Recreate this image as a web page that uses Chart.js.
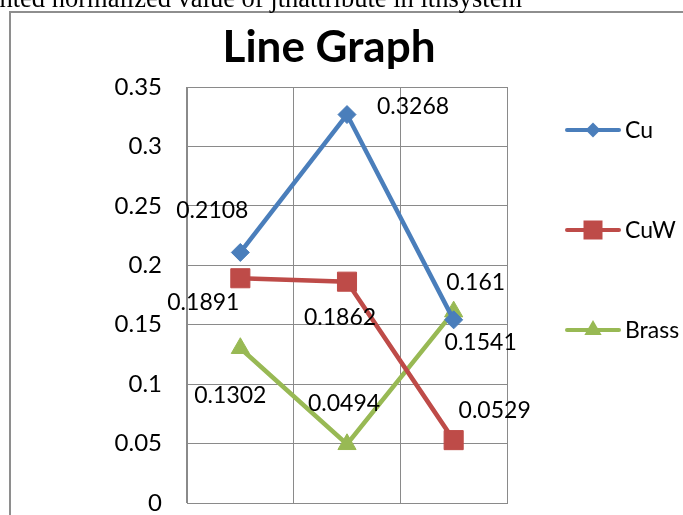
<!DOCTYPE html>
<html>
<head>
<meta charset="utf-8">
<script src="https://cdn.jsdelivr.net/npm/chart.js@4.4.1/dist/chart.umd.min.js"></script>
<style>
html,body{margin:0;padding:0;background:#fff;}
#wrap{position:relative;width:683px;height:515px;overflow:hidden;}
canvas{display:block;}
</style>
</head>
<body>
<div id="wrap"><canvas id="c" width="683" height="560"></canvas></div>
<script>
// ---- data ----
const categories = ["1", "2", "3"];
const seriesNames = ["Cu", "CuW", "Brass"];
const cuValues = [0.2108, 0.3268, 0.1541];
const cuwValues = [0.1891, 0.1862, 0.0529];
const brassValues = [0.1302, 0.0494, 0.161];
const yTickLabels = ["0", "0.05", "0.1", "0.15", "0.2", "0.25", "0.3", "0.35"];
const chartTitle = "Line Graph";
const topCaption = "Weighted normalized value of jthattribute in ithsystem";

// ---- styles ----
const colors = ["#4A7EBB", "#BE4B48", "#98B954"];
const markerStyles = ["rectRot", "rect", "triangle"];
const markerRadii = [9, 13.5, 10.5];
// label offsets (pixels, relative to point) per series/point
const labelOffsets = [
  [[-28, -42], [66, -8], [27, 23]],
  [[-37, 24], [-7, 36], [41, -30]],
  [[-10, 47], [-3, -41], [22, -29]]
];
const FONT = "Lato, 'Open Sans', sans-serif";

const allValues = [cuValues, cuwValues, brassValues];

const decorPlugin = {
  id: 'decor',
  beforeDraw(chart) {
    const ctx = chart.ctx;
    ctx.save();
    ctx.fillStyle = '#fff';
    ctx.fillRect(0, 0, chart.width, chart.height);
    // outer frame (left and top)
    ctx.strokeStyle = '#8e8e8e';
    ctx.lineWidth = 2;
    ctx.beginPath();
    ctx.moveTo(10, 560);
    ctx.lineTo(10, 12);
    ctx.lineTo(683, 12);
    ctx.stroke();
    // caption text cut at top
    ctx.fillStyle = '#000';
    ctx.font = "26.5px 'Liberation Serif', 'Times New Roman', serif";
    ctx.textAlign = 'right';
    ctx.textBaseline = 'alphabetic';
    ctx.fillText(topCaption, 522, 7);
    // title
    ctx.font = "bold 44px " + FONT;
    ctx.textAlign = 'center';
    ctx.fillText(chartTitle, 329, 62);
    ctx.restore();
  },
  afterDatasetsDraw(chart) {
    const ctx = chart.ctx;
    ctx.save();
    ctx.font = "23px " + FONT;
    ctx.fillStyle = '#000';
    ctx.textAlign = 'center';
    ctx.textBaseline = 'middle';
    chart.data.datasets.forEach((ds, i) => {
      const meta = chart.getDatasetMeta(i);
      meta.data.forEach((pt, j) => {
        const off = labelOffsets[i][j];
        ctx.fillText(String(ds.data[j]), pt.x + off[0], pt.y + off[1]);
      });
    });
    // legend
    const legendY = [130, 230, 330];
    chart.data.datasets.forEach((ds, i) => {
      const y = legendY[i];
      ctx.strokeStyle = colors[i];
      ctx.lineWidth = 4;
      ctx.lineCap = 'round';
      ctx.beginPath();
      ctx.moveTo(567, y);
      ctx.lineTo(619, y);
      ctx.stroke();
      ctx.fillStyle = colors[i];
      ctx.beginPath();
      const cx = 593;
      if (markerStyles[i] === 'rectRot') {
        const r = 7.5;
        ctx.moveTo(cx - r, y); ctx.lineTo(cx, y - r); ctx.lineTo(cx + r, y); ctx.lineTo(cx, y + r);
      } else if (markerStyles[i] === 'rect') {
        const h = 9.5;
        ctx.rect(cx - h, y - h, 2 * h, 2 * h);
      } else {
        const r = 10;
        ctx.moveTo(cx, y - r);
        ctx.lineTo(cx + r * 0.866, y + r * 0.5);
        ctx.lineTo(cx - r * 0.866, y + r * 0.5);
      }
      ctx.closePath();
      ctx.fill();
      ctx.fillStyle = '#000';
      ctx.font = "23px " + FONT;
      ctx.textAlign = 'left';
      ctx.textBaseline = 'middle';
      ctx.fillText(seriesNames[i], 625, y + 1);
    });
    ctx.restore();
  }
};

new Chart(document.getElementById('c'), {
  type: 'line',
  data: {
    labels: categories,
    datasets: allValues.map((vals, i) => ({
      label: seriesNames[i],
      data: vals,
      borderColor: colors[i],
      backgroundColor: colors[i],
      borderWidth: 4.5,
      pointStyle: markerStyles[i],
      pointRadius: markerRadii[i],
      pointHoverRadius: markerRadii[i],
      pointBorderWidth: 1,
      tension: 0,
      fill: false
    }))
  },
  options: {
    responsive: false,
    animation: false,
    devicePixelRatio: 1,
    layout: { padding: { left: 0, right: 176, top: 87, bottom: 57 } },
    plugins: { legend: { display: false }, title: { display: false }, tooltip: { enabled: false } },
    scales: {
      x: {
        type: 'category',
        offset: true,
        grid: { display: true, offset: true, color: '#8a8a8a', lineWidth: 1, drawTicks: false },
        border: { display: true, color: '#8a8a8a' },
        ticks: { display: false },
        afterFit(scale) { scale.height = 0; }
      },
      y: {
        min: 0, max: 0.35,
        grid: { color: '#8a8a8a', lineWidth: 1, drawTicks: false },
        border: { display: true, color: '#8a8a8a' },
        ticks: {
          stepSize: 0.05,
          padding: 25,
          color: '#000',
          font: { family: FONT, size: 24 },
          callback: (v, idx) => yTickLabels[idx]
        },
        afterFit(scale) { scale.width = 187; }
      }
    }
  },
  plugins: [decorPlugin]
});
</script>
</body>
</html>
